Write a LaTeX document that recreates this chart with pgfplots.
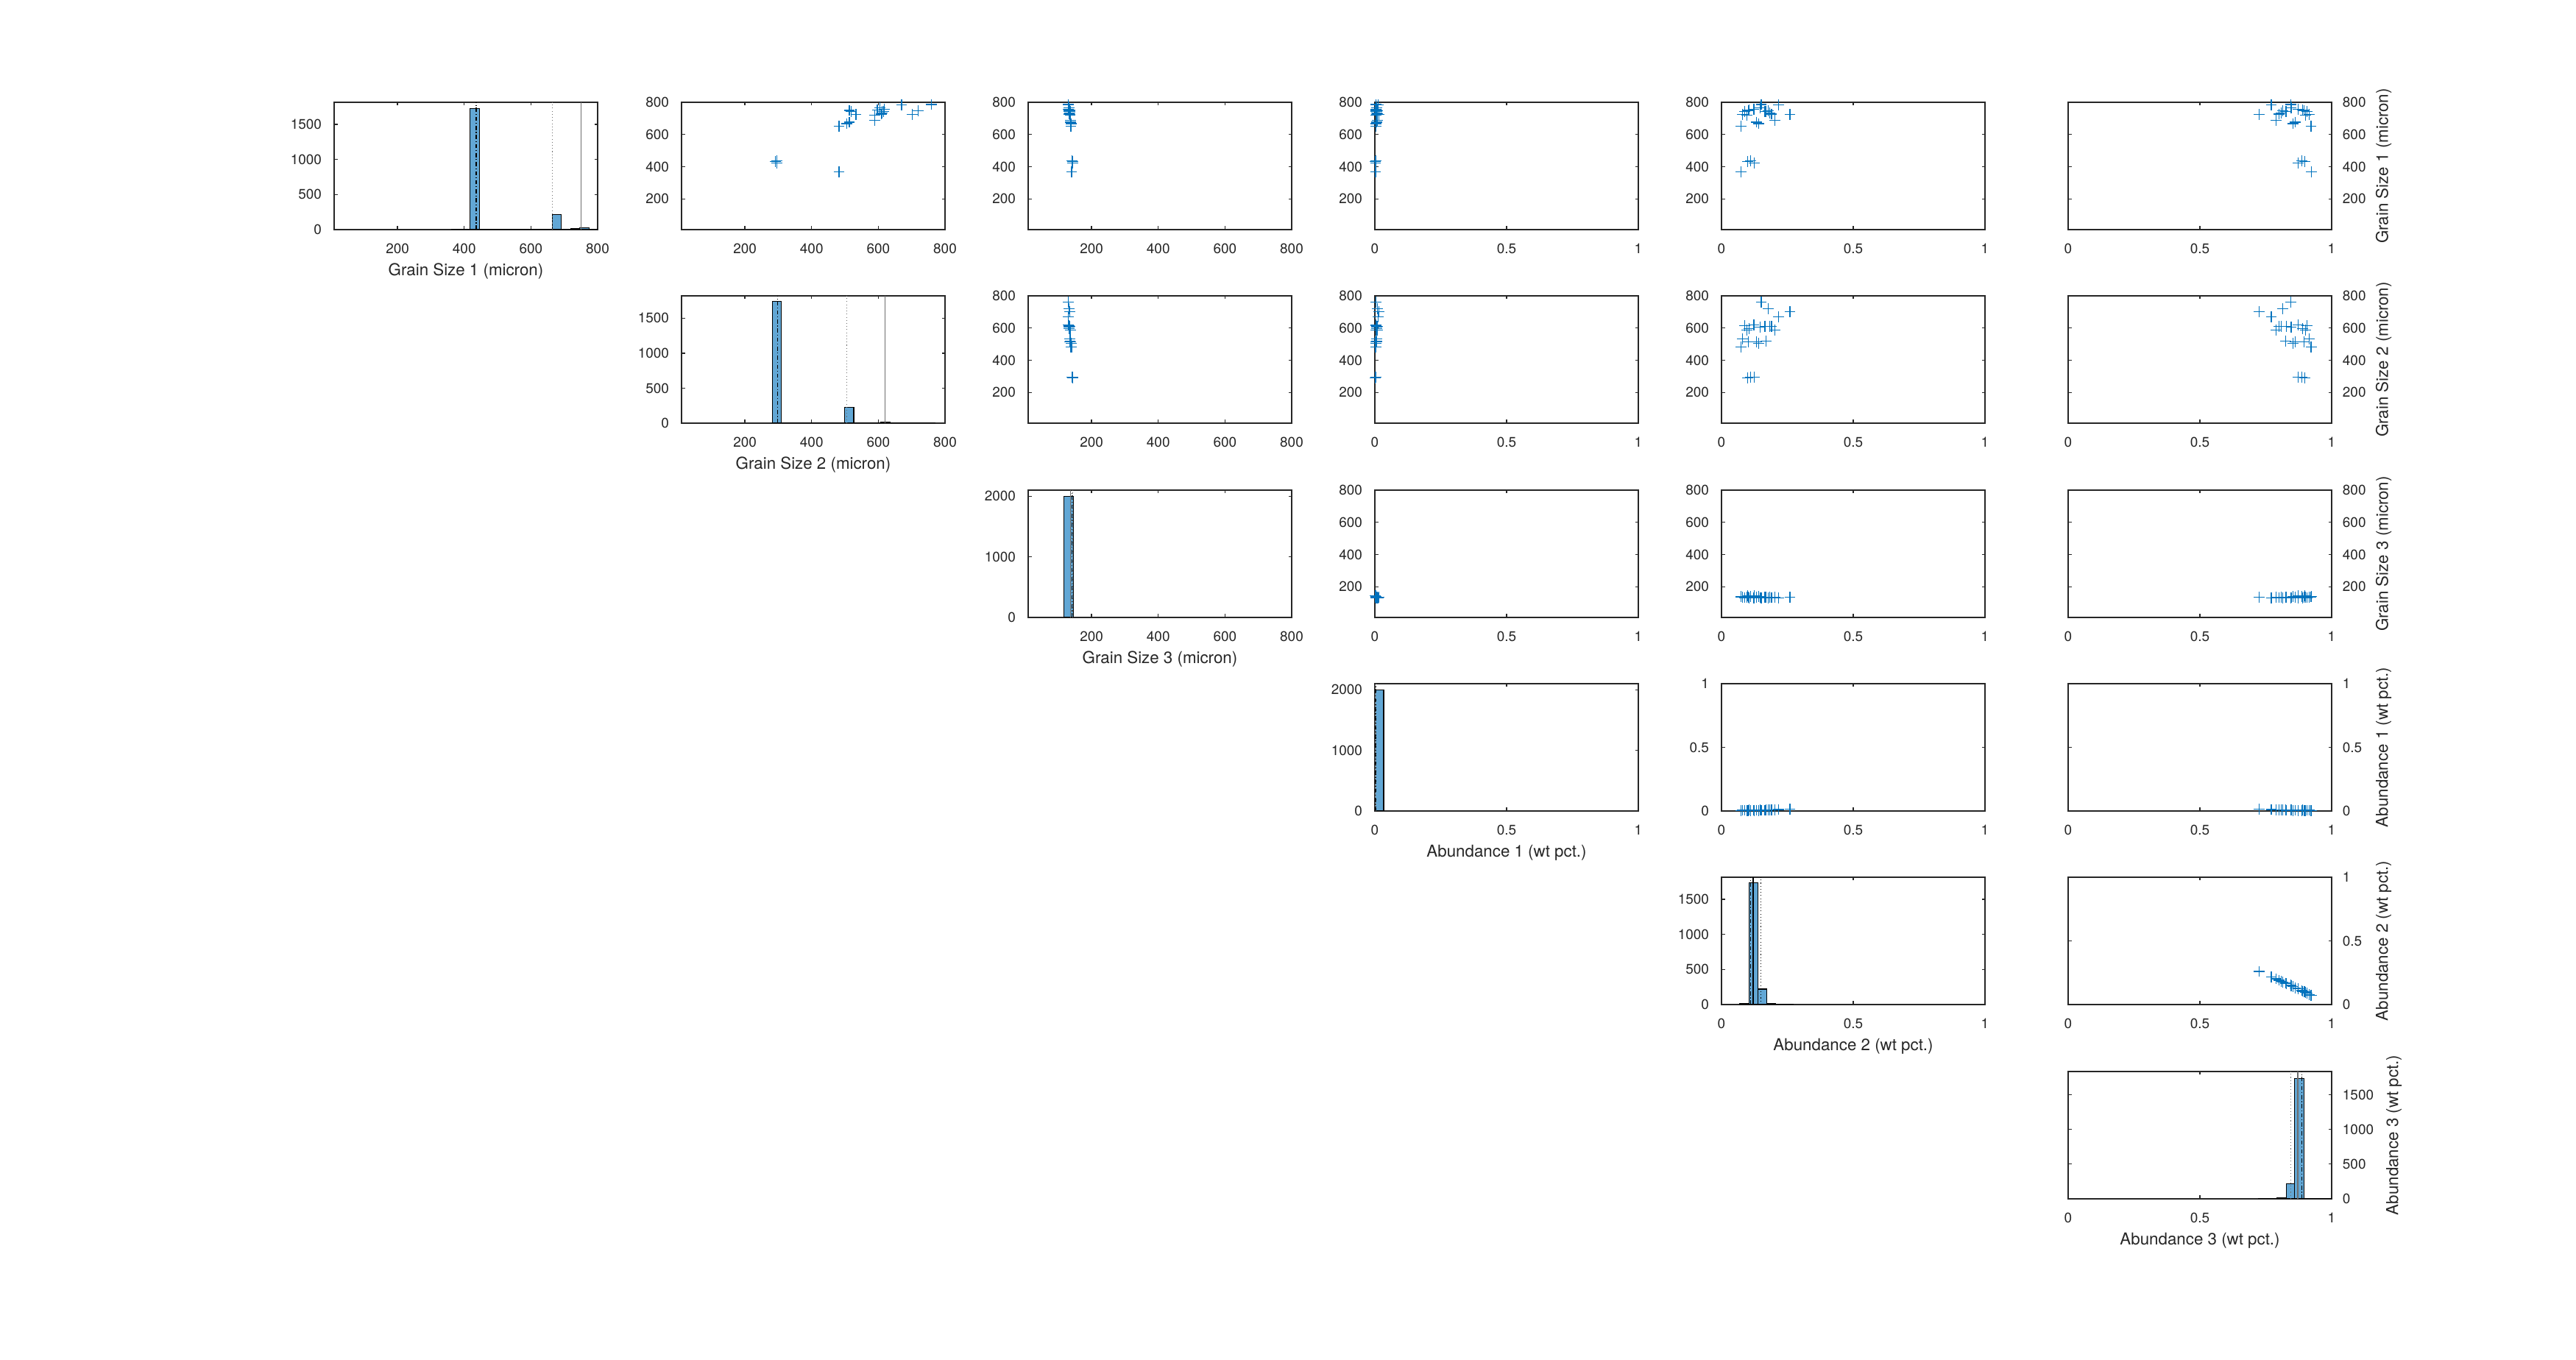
\documentclass[border=0pt]{standalone}
\usepackage{pgfplots}
\usepackage{pgfplotstable}
\pgfplotsset{compat=1.18}
\usepackage{fontspec}
\setmainfont{TeX Gyre Heros}
\definecolor{axc}{RGB}{38,38,38}
\definecolor{mblue}{RGB}{0,114,189}
\definecolor{hblue}{RGB}{98,167,213}
\definecolor{lgray}{RGB}{110,110,110}

\pgfplotstableread{
gs1 gs2 gs3 a1 a2 a3
368 482 140 0.003 0.073 0.924
652 482 138 0.004 0.074 0.922
723 533 135 0.006 0.079 0.915
742 615 133 0.005 0.088 0.907
720 589 136 0.004 0.096 0.900
750 513 134 0.003 0.101 0.896
753 597 132 0.007 0.104 0.889
432 292 143 0.002 0.100 0.898
436 295 141 0.004 0.110 0.886
424 295 144 0.003 0.125 0.872
758 618 131 0.005 0.123 0.872
677 513 137 0.006 0.132 0.862
667 505 139 0.004 0.142 0.854
765 605 133 0.008 0.146 0.846
786 760 130 0.005 0.151 0.844
742 518 136 0.007 0.168 0.825
742 612 134 0.006 0.165 0.829
747 719 132 0.009 0.177 0.814
735 612 135 0.008 0.183 0.809
727 609 133 0.010 0.190 0.800
689 589 137 0.009 0.202 0.789
783 670 131 0.012 0.217 0.771
725 701 134 0.015 0.260 0.725
}\data

\pgfplotsset{
 cp/.style={scale only axis, width=3.58cm, height=1.73cm, anchor=south west,
   axis line style={draw=axc,line width=0.35pt},
   every tick/.style={draw=axc,line width=0.35pt},
   major tick length=0.045cm, tick align=inside,
   ticklabel style={font=\fontsize{5.4}{6}\selectfont, text=axc},
   xticklabel style={yshift=-2pt},
   yticklabel style={xshift=-1.3pt},
   label style={font=\fontsize{6.35}{7}\selectfont, text=axc},
   xlabel style={at={(axis description cs:0.5,0)}, anchor=north, yshift=-0.335cm},
   /pgf/number format/assume math mode=true,
   /pgf/number format/1000 sep={},
   scaled ticks=false},
 gx/.style={xmin=10,xmax=800,xtick={200,400,600,800}},
 gy/.style={ymin=10,ymax=800,ytick={200,400,600,800}},
 ax/.style={xmin=0,xmax=1,xtick={0,0.5,1}},
 ay/.style={ymin=0,ymax=1,ytick={0,0.5,1}},
 rt/.style={yticklabel pos=right, yticklabel style={xshift=2.0pt},
   ylabel style={at={(axis description cs:1.133,0.5)}, anchor=north}},
 sc/.style={clip=false},
 pt/.style={only marks, mark=+, mark size=2.1pt, color=mblue, mark options={line width=0.35pt}},
 hist/.style={ybar interval, fill=hblue, draw=black, line width=0.3pt},
 ldd/.style={black, line width=0.35pt, dash pattern=on 1.6pt off 0.8pt on 0.3pt off 0.8pt},
 ldt/.style={lgray, line width=0.35pt, dash pattern=on 0.3pt off 0.9pt},
 lsl/.style={lgray, line width=0.4pt},
}

\begin{document}
\begin{tikzpicture}
\useasboundingbox (0,0) rectangle (35,18.48);

% ---------- Row 1 : Grain Size 1 ----------
\begin{axis}[cp, gx, at={(4.54cm,15.36cm)}, ymin=0, ymax=1815, ytick={0,500,1000,1500}, xlabel={Grain Size 1 (micron)}]
\addplot[hist] coordinates {(362.6,5) (390,3) (417.4,1730) (444.8,0) (636.6,3) (664,210) (691.4,3) (718.8,15) (746.2,25) (773.6,3) (800,0)};
\addplot[ldd] coordinates {(436,0) (436,1815)};
\addplot[ldt] coordinates {(664,0) (664,1815)};
\addplot[lsl] coordinates {(750,0) (750,1815)};
\end{axis}

\begin{axis}[cp, sc, gx, gy, at={(9.26cm,15.36cm)}]
\addplot[pt] table[x=gs2,y=gs1] {\data};
\end{axis}
\begin{axis}[cp, sc, gx, gy, at={(13.97cm,15.36cm)}]
\addplot[pt] table[x=gs3,y=gs1] {\data};
\end{axis}
\begin{axis}[cp, sc, ax, gy, at={(18.68cm,15.36cm)}]
\addplot[pt] table[x=a1,y=gs1] {\data};
\end{axis}
\begin{axis}[cp, sc, ax, gy, at={(23.39cm,15.36cm)}]
\addplot[pt] table[x=a2,y=gs1] {\data};
\end{axis}
\begin{axis}[cp, sc, ax, gy, rt, at={(28.10cm,15.36cm)}, ylabel={Grain Size 1 (micron)}]
\addplot[pt] table[x=a3,y=gs1] {\data};
\end{axis}

% ---------- Row 2 : Grain Size 2 ----------
\begin{axis}[cp, gx, at={(9.26cm,12.73cm)}, ymin=0, ymax=1820, ytick={0,500,1000,1500}, xlabel={Grain Size 2 (micron)}]
\addplot[hist] coordinates {(281.6,1736) (308.8,0) (472,3) (499.2,221) (526.4,0) (553.6,3) (580.8,3) (608,15) (635.2,0) (662.4,4) (689.6,4) (716.8,0) (744,3) (771.2,0)};
\addplot[ldd] coordinates {(298,0) (298,1820)};
\addplot[ldt] coordinates {(506,0) (506,1820)};
\addplot[lsl] coordinates {(620,0) (620,1820)};
\end{axis}
\begin{axis}[cp, sc, gx, gy, at={(13.97cm,12.73cm)}]
\addplot[pt] table[x=gs3,y=gs2] {\data};
\end{axis}
\begin{axis}[cp, sc, ax, gy, at={(18.68cm,12.73cm)}]
\addplot[pt] table[x=a1,y=gs2] {\data};
\end{axis}
\begin{axis}[cp, sc, ax, gy, at={(23.39cm,12.73cm)}]
\addplot[pt] table[x=a2,y=gs2] {\data};
\end{axis}
\begin{axis}[cp, sc, ax, gy, rt, at={(28.10cm,12.73cm)}, ylabel={Grain Size 2 (micron)}]
\addplot[pt] table[x=a3,y=gs2] {\data};
\end{axis}

% ---------- Row 3 : Grain Size 3 ----------
\begin{axis}[cp, gx, at={(13.97cm,10.09cm)}, ymin=0, ymax=2100, ytick={0,1000,2000}, xlabel={Grain Size 3 (micron)}]
\addplot[hist] coordinates {(118,1998) (145,0)};
\addplot[lsl] coordinates {(137,0) (137,2100)};
\addplot[ldd] coordinates {(141,0) (141,2100)};
\addplot[ldt] coordinates {(143,0) (143,2100)};
\end{axis}
\begin{axis}[cp, sc, ax, gy, at={(18.68cm,10.09cm)}]
\addplot[pt] table[x=a1,y=gs3] {\data};
\end{axis}
\begin{axis}[cp, sc, ax, gy, at={(23.39cm,10.09cm)}]
\addplot[pt] table[x=a2,y=gs3] {\data};
\end{axis}
\begin{axis}[cp, sc, ax, gy, rt, at={(28.10cm,10.09cm)}, ylabel={Grain Size 3 (micron)}]
\addplot[pt] table[x=a3,y=gs3] {\data};
\end{axis}

% ---------- Row 4 : Abundance 1 ----------
\begin{axis}[cp, ax, at={(18.68cm,7.46cm)}, ymin=0, ymax=2100, ytick={0,1000,2000}, xlabel={Abundance 1 (wt pct.)}]
\addplot[hist] coordinates {(0,1998) (0.0335,0)};
\addplot[lsl] coordinates {(0.002,0) (0.002,2100)};
\addplot[ldd] coordinates {(0.003,0) (0.003,2100)};
\addplot[ldt] coordinates {(0.004,0) (0.004,2100)};
\end{axis}
\begin{axis}[cp, sc, ax, ay, at={(23.39cm,7.46cm)}]
\addplot[pt] table[x=a2,y=a1] {\data};
\end{axis}
\begin{axis}[cp, sc, ax, ay, rt, at={(28.10cm,7.46cm)}, ylabel={Abundance 1 (wt pct.)}]
\addplot[pt] table[x=a3,y=a1] {\data};
\end{axis}

% ---------- Row 5 : Abundance 2 ----------
\begin{axis}[cp, ax, at={(23.39cm,4.83cm)}, ymin=0, ymax=1815, ytick={0,500,1000,1500}, xlabel={Abundance 2 (wt pct.)}]
\addplot[hist] coordinates {(0.0695,15) (0.1035,1732) (0.1375,220) (0.1715,15) (0.2055,5) (0.2395,4) (0.2735,0)};
\addplot[ldd] coordinates {(0.110,0) (0.110,1815)};
\addplot[black, line width=0.4pt] coordinates {(0.120,0) (0.120,1815)};
\addplot[ldt, black] coordinates {(0.149,0) (0.149,1815)};
\end{axis}
\begin{axis}[cp, sc, ax, ay, rt, at={(28.10cm,4.83cm)}, ylabel={Abundance 2 (wt pct.)}]
\addplot[pt] table[x=a3,y=a2] {\data};
\end{axis}

% ---------- Row 6 : Abundance 3 ----------
\begin{axis}[cp, ax, rt, at={(28.10cm,2.19cm)}, ymin=0, ymax=1836, ytick={0,500,1000,1500},
  ylabel style={at={(axis description cs:1.172,0.5)}},
  xlabel={Abundance 3 (wt pct.)}, ylabel={Abundance 3 (wt pct.)}]
\addplot[hist] coordinates {(0.722,2) (0.757,3) (0.792,15) (0.827,217) (0.860,1738) (0.894,10) (0.930,2) (0.965,1) (1.0,0)};
\addplot[ldt] coordinates {(0.844,0) (0.844,1836)};
\addplot[lsl] coordinates {(0.872,0) (0.872,1836)};
\addplot[ldd] coordinates {(0.887,0) (0.887,1836)};
\end{axis}
\end{tikzpicture}
\end{document}
